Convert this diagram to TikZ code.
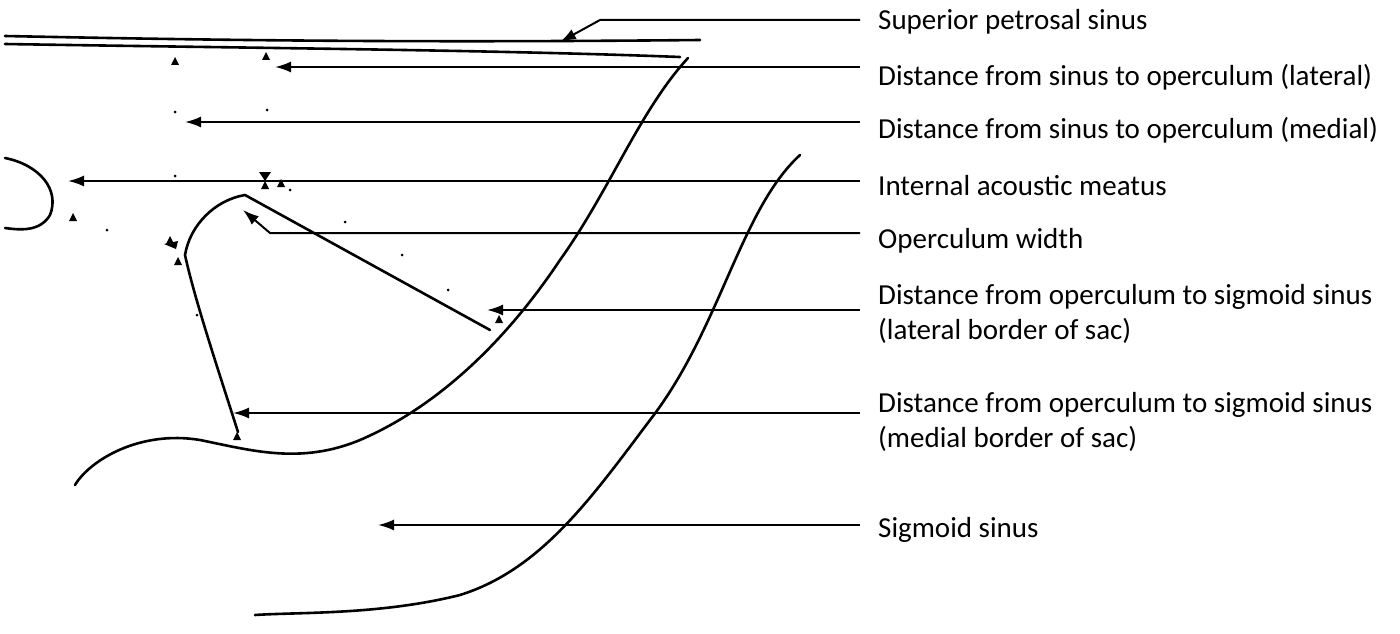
\documentclass[tikz,border=0pt]{standalone}
\usepackage{fontspec}
\setmainfont{Carlito}
\usetikzlibrary{arrows.meta}
\begin{document}
\begin{tikzpicture}[x=1pt,y=-1pt,
  lbl/.style={anchor=west,font=\fontsize{29}{35}\selectfont,align=left,inner sep=0},
  ptr/.style={-{Latex[length=16pt,width=11pt]},line width=2pt},
  anat/.style={line width=2.6pt,line cap=round,line join=round}]
\useasboundingbox (0,0) rectangle (1400,634);
% anatomy
\draw[anat] (5,36) .. controls (200,40) and (400,43) .. (700,40);
\draw[anat] (5,44) .. controls (250,48) and (500,50) .. (680,57);
\draw[anat] (688,58) .. controls (640,110) and (610,190) .. (560,260)
  .. controls (500,350) and (430,410) .. (360,440)
  .. controls (300,465) and (250,450) .. (200,440)
  .. controls (140,430) and (90,460) .. (75,485);
\draw[anat] (800,155) .. controls (740,210) and (720,330) .. (650,420)
  .. controls (590,500) and (540,570) .. (460,595)
  .. controls (380,615) and (300,612) .. (255,615);
\draw[anat] (490,330) -- (245,195) .. controls (215,200) and (190,225) .. (185,255)
  .. controls (195,300) and (215,360) .. (238,432);
\draw[anat] (5,158) .. controls (40,165) and (60,190) .. (50,215)
  .. controls (40,232) and (20,230) .. (5,228);
% markers
\foreach \p in {(175,62),(266,57),(265,186),(281,184),(73,218),(170,241),(178,262),(499,320),(237,437)}
  \fill \p ++(-4,3) -- ++(8,0) -- ++(-4,-8) -- cycle;
\fill (259,172) -- ++(12,0) -- ++(-6,9) -- cycle;
\fill (164,244) -- ++(14,-3) -- ++(-2,8) -- cycle;
\foreach \p in {(175,112),(267,110),(175,176),(345,222),(402,255),(448,290),(107,230),(290,190),(197,315)}
  \fill \p circle (1.5);
% labels
\node[lbl] (l1) at (878,22) {Superior petrosal sinus};
\node[lbl] (l2) at (878,77) {Distance from sinus to operculum (lateral)};
\node[lbl] (l3) at (878,130) {Distance from sinus to operculum (medial)};
\node[lbl] (l4) at (878,186) {Internal acoustic meatus};
\node[lbl] (l5) at (878,241) {Operculum width};
\node[lbl] (l6) at (878,314) {Distance from operculum to sigmoid sinus\\(lateral border of sac)};
\node[lbl] (l7) at (878,422) {Distance from operculum to sigmoid sinus\\(medial border of sac)};
\node[lbl] (l8) at (878,530) {Sigmoid sinus};
% pointers
\coordinate (t1) at (560,42); \coordinate (t2) at (275,67); \coordinate (t3) at (185,122);
\coordinate (t4) at (68,181); \coordinate (t5) at (243,210); \coordinate (t6) at (487,310);
\coordinate (t7) at (233,413); \coordinate (t8) at (378,525);
\draw[ptr] (860,20) -- (600,20) -- (t1);
\draw[ptr] (860,67) -- (t2);
\draw[ptr] (860,122) -- (t3);
\draw[ptr] (860,181) -- (t4);
\draw[ptr] (860,233) -- (270,233) -- (t5);
\draw[ptr] (860,310) -- (t6);
\draw[ptr] (860,413) -- (t7);
\draw[ptr] (860,525) -- (t8);
\end{tikzpicture}
\end{document}
